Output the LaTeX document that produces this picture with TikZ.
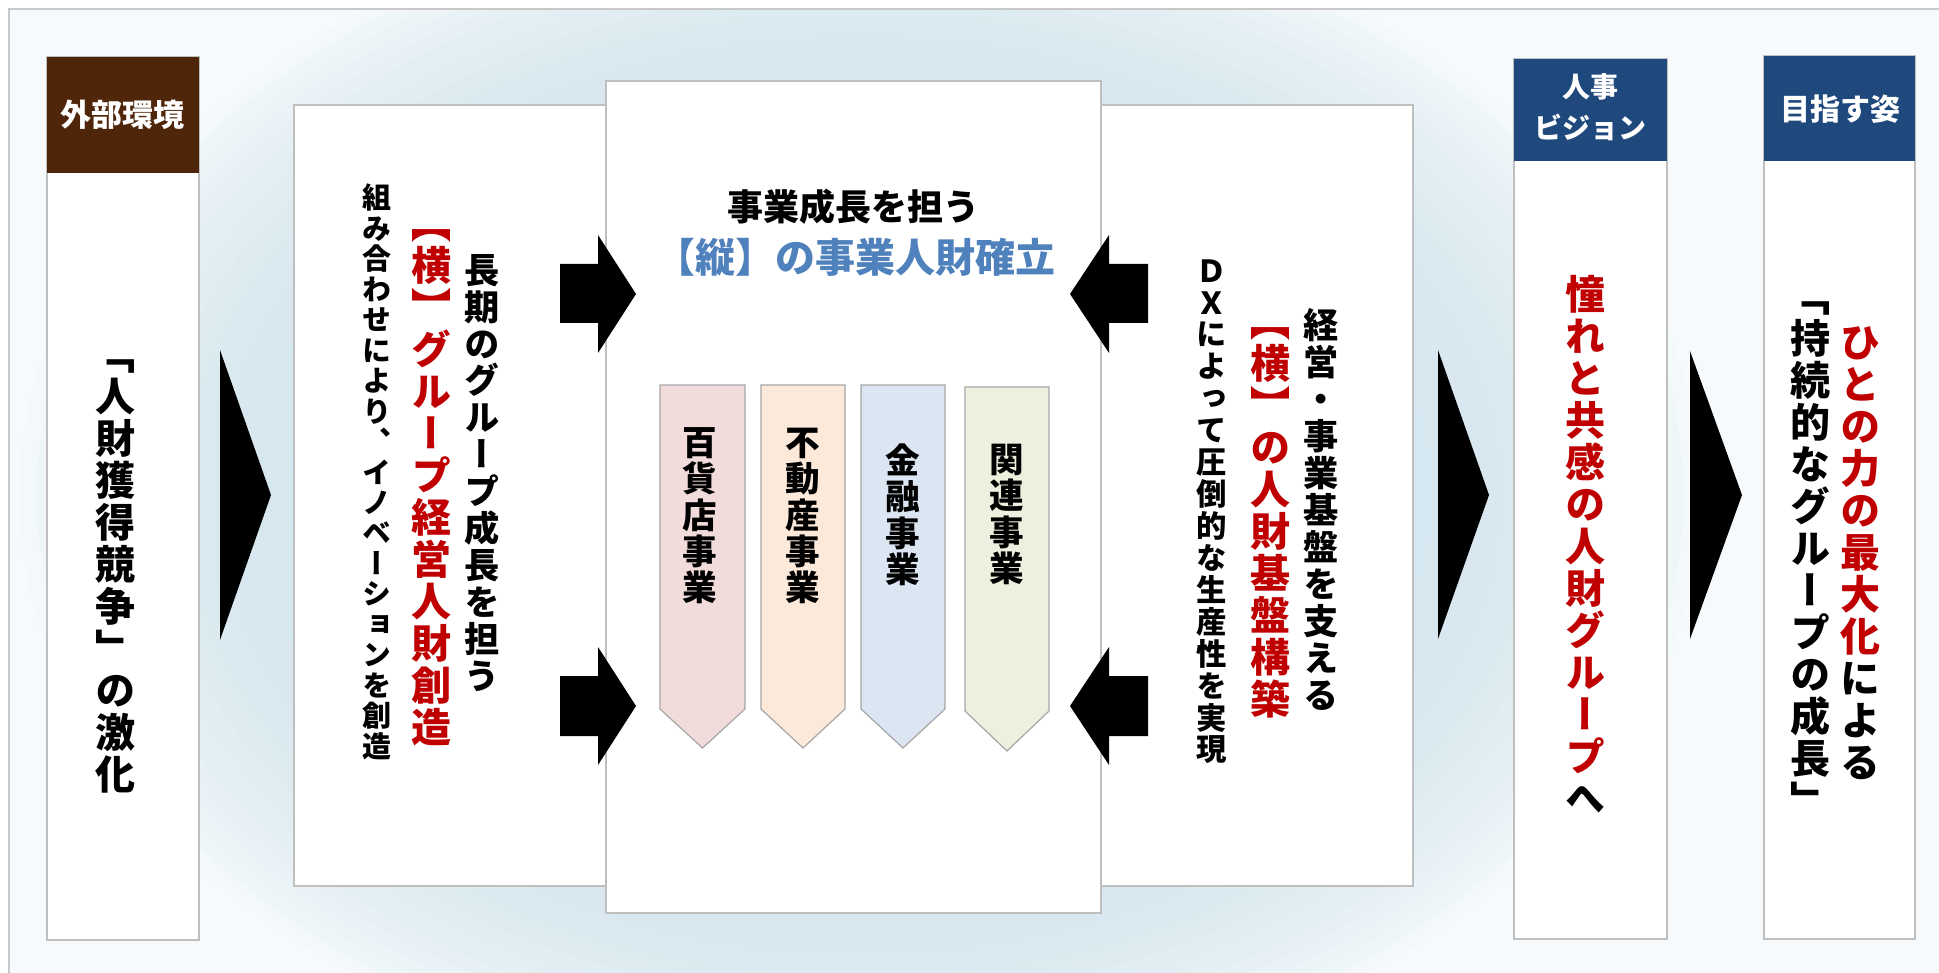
\documentclass[tikz,border=0pt]{standalone}
\usepackage{fontspec}
\newfontfamily\jp{Noto Sans CJK JP}
\newfontfamily\jpv{Noto Sans CJK JP}[RawFeature=+vert]
\definecolor{bgc}{HTML}{F7FAFC}
\definecolor{glowc}{HTML}{D3E7F0}
\definecolor{framegray}{HTML}{C8C8C8}
\definecolor{boxgray}{HTML}{BFBFBF}
\definecolor{stripgray}{HTML}{A6A6A6}
\definecolor{brownc}{HTML}{4F260A}
\definecolor{navyc}{HTML}{1F497D}
\definecolor{redc}{HTML}{C00000}
\definecolor{bluec}{HTML}{4F81BD}
\definecolor{pinkc}{HTML}{F2DCDB}
\definecolor{orangec}{HTML}{FDE9D9}
\definecolor{bluesc}{HTML}{DCE6F2}
\definecolor{greenc}{HTML}{EBF1DE}
\ExplSyntaxOn
\NewDocumentCommand{\vchars}{ O{black} m }
  {
    \tl_map_inline:nn {#2}
      { \hbox_to_wd:nn {1em} { \color{#1} \vrule height .88em depth .12em width 0pt \hss ##1 \hss } }
  }
\ExplSyntaxOff
\newcommand\vcol[2]{\vbox{\baselineskip=#1em\lineskiplimit=-100pt\lineskip=0pt #2}}
\begin{document}
\begin{tikzpicture}[x=0.5pt,y=-0.5pt,
  boxline/.style={draw=boxgray, line width=1pt, fill=white},
  vt/.style={inner sep=0pt, font=\jpv\bfseries\fontsize{#1}{#1}\selectfont},
  ht/.style={inner sep=0pt, font=\jp\bfseries\fontsize{#1}{#1}\selectfont},
  strip/.style={draw=stripgray, line width=0.6pt}]
\useasboundingbox (0,0) rectangle (1939,973);
\fill[white] (0,0) rectangle (1939,973);
\begin{scope}
  \clip (9,9) rectangle (1939,973);
  \fill[bgc] (9,9) rectangle (1939,973);
  \foreach \k in {0,...,24} {
    \fill[glowc, fill opacity=0.1] (860,495) ellipse ({840*(1-0.02*\k)} and {600*(1-0.02*\k)});
  }
\end{scope}
\draw[framegray, line width=0.8pt] (9,973) -- (9,9) -- (1939,9);
% external environment box
\draw[boxline] (47,57) rectangle (199,940);
\fill[brownc] (47,57) rectangle (199,173);
% side boxes and center box
\draw[boxline] (294,105) rectangle (606,886);
\draw[boxline] (1101,105) rectangle (1413,886);
\draw[boxline] (606,81) rectangle (1101,913);
% strips
\draw[strip, fill=pinkc] (660,385) -- (745,385) -- (745,709) -- (702.5,748) -- (660,709) -- cycle;
\draw[strip, fill=orangec] (761,385) -- (845,385) -- (845,709) -- (803,748) -- (761,709) -- cycle;
\draw[strip, fill=bluesc] (861,385) -- (945,385) -- (945,709) -- (903,748) -- (861,709) -- cycle;
\draw[strip, fill=greenc] (965,387) -- (1049,387) -- (1049,711) -- (1007,751) -- (965,711) -- cycle;
% block arrows
\fill (560,264) -- (598,264) -- (598,235) -- (636,294) -- (598,353) -- (598,323) -- (560,323) -- cycle;
\fill (560,676) -- (598,676) -- (598,647) -- (636,706) -- (598,765) -- (598,736) -- (560,736) -- cycle;
\fill (1148,264) -- (1109,264) -- (1109,235) -- (1070,294) -- (1109,353) -- (1109,323) -- (1148,323) -- cycle;
\fill (1148,676) -- (1109,676) -- (1109,647) -- (1070,706) -- (1109,765) -- (1109,736) -- (1148,736) -- cycle;
% big triangles
\fill (220,350) -- (271,495) -- (220,640) -- cycle;
\fill (1438,350) -- (1489,495) -- (1438,639) -- cycle;
\fill (1690,351) -- (1742,495) -- (1690,639) -- cycle;
% right boxes
\draw[boxline] (1514,59) rectangle (1667,939);
\fill[navyc] (1514,59) rectangle (1667,161);
\draw[boxline] (1764,56) rectangle (1915,939);
\fill[navyc] (1764,56) rectangle (1915,161);
% headers
\node[ht=15.5pt, text=white] (hEnv) at (123,115) {外部環境};
\node[ht=14pt, text=white] (hVis1) at (1590,87) {人事};
\node[ht=14pt, text=white] (hVis2) at (1590,127) {ビジョン};
\node[ht=15pt, text=white] (hGoal) at (1840,109) {目指す姿};
% texts
\node[vt=20pt] (tEnv) at (115,564) {\vcol{1.05}{\vchars{「人財獲得競争」の激化}}};
\node[vt=17.6pt] (tL1) at (482,473) {\vcol{1.05}{\vchars{長期のグループ成長を担う}}};
\node[vt=20pt] (tL2) at (431,475) {\vcol{1.05}{\vchars[redc]{【横】グループ経営人財創造}}};
\node[vt=14.5pt] (tL3) at (377,472) {\vcol{1.05}{\vchars{組み合わせにより、イノベーションを創造}}};
\node[ht=18pt] (tC1) at (853,207) {事業成長を担う};
\node[ht=20pt, text=bluec] (tC2) at (855,257) {【縦】の事業人財確立};
\node[vt=17.3pt] (s1) at (700,515) {\vcol{1.05}{\vchars{百貨店事業}}};
\node[vt=17.3pt] (s2) at (803,515) {\vcol{1.05}{\vchars{不動産事業}}};
\node[vt=17.3pt] (s3) at (903,515) {\vcol{1.05}{\vchars{金融事業}}};
\node[vt=17.3pt] (s4) at (1007,514) {\vcol{1.05}{\vchars{関連事業}}};
\node[vt=17.6pt] (tR1) at (1321,510) {\vcol{1.05}{\vchars{経営・事業基盤を支える}}};
\node[vt=20pt] (tR2) at (1270,510) {\vcol{1.05}{\vchars[redc]{【横】の人財基盤構築}}};
\node[vt=15.2pt] (tR3) at (1212,510) {\vcol{1.05}{\vchars{ＤＸによって圧倒的な生産性を実現}}};
\node[vt=20pt] (tV) at (1585,546) {\vcol{1.05}{\vchars[redc]{憧れと共感の人財グループ}\vchars{へ}}};
\node[vt=20pt] (tG1) at (1860,552) {\vcol{1.05}{\vchars[redc]{ひとの力の最大化}\vchars{による}}};
\node[vt=20pt] (tG2) at (1810,548) {\vcol{1.05}{\vchars{「持続的なグループの成長」}}};
\end{tikzpicture}
\end{document}
